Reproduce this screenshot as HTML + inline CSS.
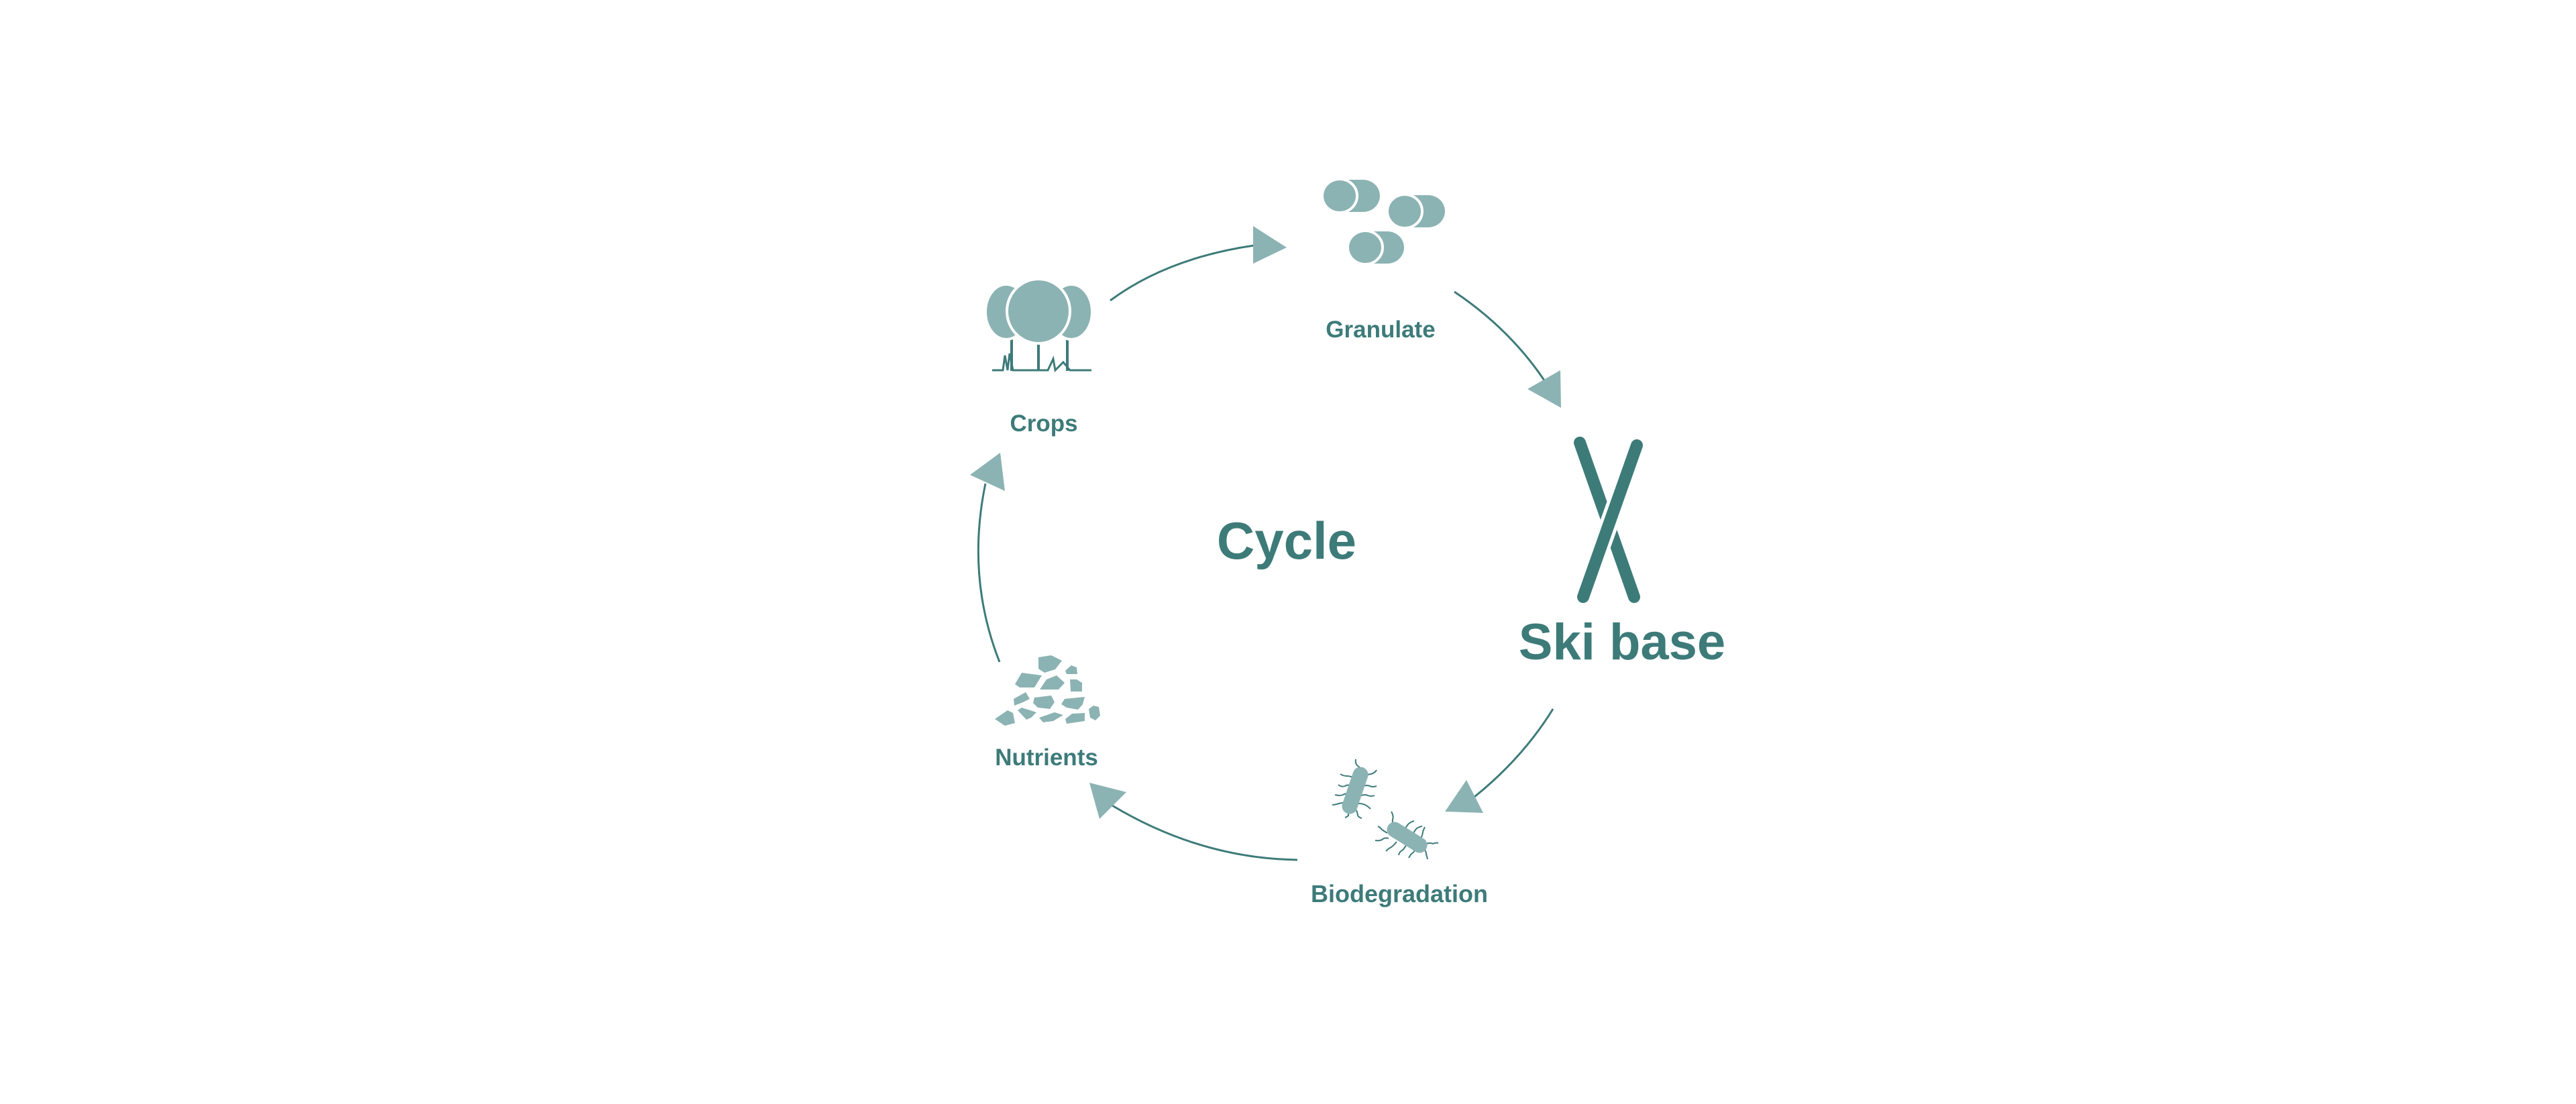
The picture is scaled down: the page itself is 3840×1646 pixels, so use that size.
<!DOCTYPE html>
<html><head><meta charset="utf-8"><style>
html,body{margin:0;padding:0;background:#fff;}
svg{display:block;}
text{font-family:"Liberation Sans",Arial,sans-serif;font-weight:bold;fill:#3d7b79;}
</style></head><body>
<svg width="3840" height="1646" viewBox="0 0 3840 1646" xmlns="http://www.w3.org/2000/svg">
<rect width="3840" height="1646" fill="#fff"/>
<g fill="none" stroke="#3d7b79" stroke-width="3">
<path d="M1655,448 Q1740,385 1869,366"/>
<path d="M2168,435 Q2250,490 2302,567"/>
<path d="M2315,1057 Q2270,1130 2198,1188"/>
<path d="M1934,1282 Q1790,1280 1658,1201"/>
<path d="M1490,987 Q1440,860 1469,721"/>
</g>
<g fill="#8cb3b3">
<polygon points="1868,337 1918,369 1868,393"/>
<polygon points="2277,580 2326,552 2327,608"/>
<polygon points="2154,1210 2186,1163 2211,1212"/>
<polygon points="1624,1167 1679,1181 1639,1221"/>
<polygon points="1446,708 1491,675 1498,732"/>
</g>
<!-- Crops trees -->
<g stroke="#3d7b79" stroke-width="4" fill="none">
<line x1="1508" y1="495" x2="1508" y2="553"/>
<line x1="1548" y1="505" x2="1548" y2="553"/>
<line x1="1591" y1="495" x2="1591" y2="553"/>
<polyline stroke-width="3" points="1479,552 1495,552 1498,530 1502,552 1505,527 1510,552 1548,552 1562,552 1570,535 1573,552 1585,540 1595,552 1627,552"/>
</g>
<g fill="#8cb3b3" stroke="#fff" stroke-width="4">
<ellipse cx="1500" cy="465" rx="31" ry="41"/>
<ellipse cx="1597" cy="465" rx="31" ry="41"/>
<ellipse cx="1548" cy="464" rx="47" ry="48"/>
</g>
<!-- Granulate pills -->
<g fill="#8cb3b3" stroke="#fff" stroke-width="4">
<rect x="1997" y="268" width="35" height="48" fill="#8cb3b3" stroke="none"/>
<ellipse cx="2032" cy="292" rx="25" ry="24" stroke="none"/>
<ellipse cx="1997" cy="292" rx="26" ry="25"/>
<rect x="2094" y="291" width="35" height="48" stroke="none"/>
<ellipse cx="2129" cy="315" rx="25" ry="24" stroke="none"/>
<ellipse cx="2094" cy="315" rx="26" ry="25"/>
<rect x="2035" y="345" width="33" height="48" stroke="none"/>
<ellipse cx="2068" cy="369" rx="25" ry="24" stroke="none"/>
<ellipse cx="2035" cy="369" rx="26" ry="25"/>
</g>
<!-- Skis -->
<g stroke-linecap="round">
<line x1="2355" y1="660" x2="2436" y2="890" stroke="#3d7b79" stroke-width="18"/>
<line x1="2440" y1="664" x2="2360" y2="890" stroke="#fff" stroke-width="28"/>
<line x1="2440" y1="664" x2="2360" y2="890" stroke="#3d7b79" stroke-width="18"/>
</g>
<!-- Bacteria -->
<g stroke="#3d7b79" stroke-width="2" fill="none">
<path d="M2020,1160 q-8,-3 -12,-3 q-6,0 -10,-3"/>
<path d="M2017,1172 q-8,-3 -12,0 q-5,2 -10,-2"/>
<path d="M2014,1185 q-8,-3 -12,0 q-5,2 -12,0"/>
<path d="M2010,1198 q-8,-2 -14,0 q-6,2 -10,2"/>
<path d="M2030,1150 q-2,-6 -6,-8 q-4,-3 -3,-10"/>
<path d="M2034,1160 q4,-6 10,-6 q6,-2 8,-6"/>
<path d="M2032,1172 q6,-2 10,0 q4,2 10,0"/>
<path d="M2029,1186 q6,-2 10,0 q5,2 10,0"/>
<path d="M2025,1198 q6,0 10,2 q4,2 8,6"/>
<path d="M2012,1206 q-2,6 -2,10 q-2,2 -5,3"/>
<path d="M2022,1208 q2,6 2,8 q2,3 6,4"/>
<path d="M2078,1232 q-3,-5 -2,-10 q2,-5 -2,-12"/>
<path d="M2094,1238 q2,-6 6,-10 q4,-3 8,-4"/>
<path d="M2106,1245 q2,-6 6,-10 q5,-3 8,-3"/>
<path d="M2118,1250 q3,-6 3,-10 q2,-5 3,-7"/>
<path d="M2126,1258 q6,-2 10,0 q4,-2 8,-1"/>
<path d="M2068,1242 q-5,-3 -8,-5 q-3,-4 -6,-5"/>
<path d="M2070,1250 q-6,-2 -10,2 q-4,2 -10,1"/>
<path d="M2082,1255 q-4,5 -8,8 q-4,2 -8,6"/>
<path d="M2096,1260 q-3,6 -6,8 q-4,2 -5,7"/>
<path d="M2110,1265 q-2,6 -6,8 q-3,4 -4,6"/>
<path d="M2122,1265 q4,4 4,8 q1,4 2,8"/>
</g>
<g stroke="#8cb3b3" stroke-linecap="round" fill="none">
<line x1="2028" y1="1155" x2="2012" y2="1202" stroke-width="23"/>
<line x1="2079" y1="1237" x2="2116" y2="1260" stroke-width="23"/>
</g>
<!-- Stones -->
<g fill="#8cb3b3">
<polygon points="1548,980 1567,977 1583,985 1573,998 1557,1003 1548,997"/>
<polygon points="1588,1000 1597,992 1605,995 1606,1005 1590,1005"/>
<polygon points="1513,1020 1523,1003 1553,1007 1542,1025 1520,1025"/>
<polygon points="1550,1028 1560,1013 1575,1007 1587,1018 1578,1028"/>
<polygon points="1595,1013 1605,1013 1613,1018 1613,1031 1596,1031"/>
<polygon points="1511,1042 1529,1032 1535,1042 1525,1047 1512,1052"/>
<polygon points="1542,1040 1567,1037 1572,1047 1565,1057 1547,1055 1540,1048"/>
<polygon points="1587,1042 1617,1039 1614,1050 1607,1058 1590,1055 1582,1050"/>
<polygon points="1623,1057 1630,1052 1638,1054 1640,1067 1633,1074 1625,1070"/>
<polygon points="1483,1072 1502,1059 1510,1063 1513,1078 1498,1082"/>
<polygon points="1517,1059 1523,1055 1545,1062 1537,1070 1530,1073"/>
<polygon points="1549,1070 1572,1062 1585,1066 1570,1075 1555,1077"/>
<polygon points="1588,1072 1598,1064 1617,1063 1617,1075 1590,1079"/>
</g>
<!-- Labels -->
<text x="1556" y="643" font-size="35" text-anchor="middle">Crops</text>
<text x="2058" y="503" font-size="35" text-anchor="middle">Granulate</text>
<text x="2418" y="983" font-size="76" text-anchor="middle">Ski base</text>
<text x="2086" y="1345" font-size="36" text-anchor="middle">Biodegradation</text>
<text x="1560" y="1141" font-size="35" text-anchor="middle">Nutrients</text>
<text x="1918" y="833" font-size="78" text-anchor="middle">Cycle</text>
</svg>
</body></html>
